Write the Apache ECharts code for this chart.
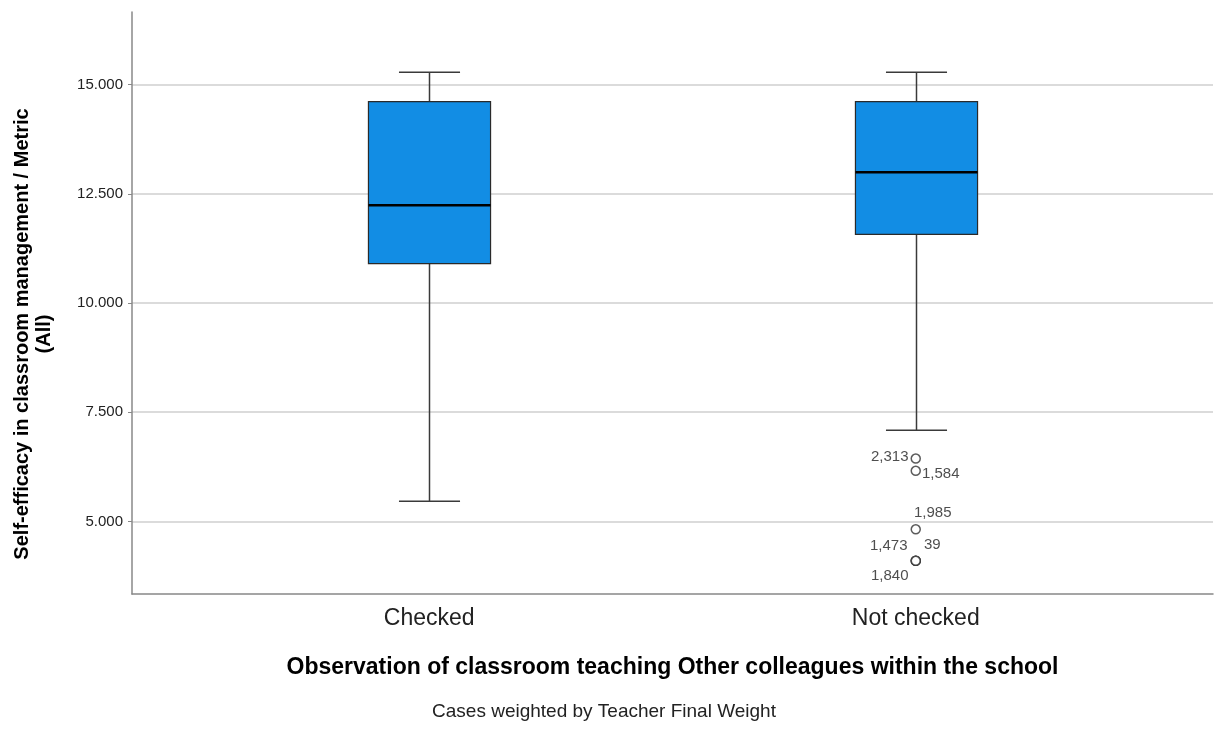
<!DOCTYPE html>
<html lang="en">
<head>
    <meta charset="UTF-8">
    <title>Boxplot</title>
    <script src="https://cdn.jsdelivr.net/npm/echarts@6/dist/echarts.min.js"></script>
</head>
<body style="margin:0;">
<div id="main" style="width:1217px;height:729px;"></div>
<script type="text/javascript">
    // 数据
    var categories = ['Checked', 'Not checked'];
    // [low whisker, Q1, median, Q3, high whisker]
    var checkedBox = [5.46, 10.90, 12.24, 14.61, 15.28];
    var notCheckedBox = [7.09, 11.57, 12.99, 14.61, 15.28];
    var outlierValues = [6.44, 6.16, 4.82, 4.10, 4.10, 4.10];
    var outlierIds = ['2,313', '1,584', '1,985', '1,473', '39', '1,840'];
    var yTicks = [5, 7.5, 10, 12.5, 15];

    // where each case label sits next to its circle
    var labelPlace = {
        '2,313': {position: 'left', distance: 2, offset: [0, -2]},
        '1,584': {position: 'right', distance: 1, offset: [0, 3]},
        '1,985': {position: 'top', distance: 4, offset: [17, 0]},
        '1,473': {position: 'left', distance: 3, offset: [0, -15]},
        '39': {position: 'right', distance: 3, offset: [0, -16]},
        '1,840': {position: 'left', distance: 2, offset: [0, 15]}
    };

    var boxData = [[0].concat(checkedBox), [1].concat(notCheckedBox)];
    var outlierData = outlierValues.map(function (v, i) {
        var p = labelPlace[outlierIds[i]];
        return {
            value: [1, v],
            label: {
                show: true,
                formatter: outlierIds[i],
                position: p.position,
                distance: p.distance,
                offset: p.offset
            }
        };
    });

    var myChart = echarts.init(document.getElementById('main'));

    function renderBox(params, api) {
        var x = api.value(0);
        var low = api.coord([x, api.value(1)]);
        var q1 = api.coord([x, api.value(2)]);
        var med = api.coord([x, api.value(3)]);
        var q3 = api.coord([x, api.value(4)]);
        var high = api.coord([x, api.value(5)]);
        var w = api.size([0.251, 0])[0];
        var cx = Math.round(low[0]) + 0.5;
        var lineStyle = {stroke: '#3a3a3a', lineWidth: 1.5};
        return {
            type: 'group',
            children: [
                {type: 'line', shape: {x1: cx, y1: high[1], x2: cx, y2: q3[1]}, style: lineStyle},
                {type: 'line', shape: {x1: cx, y1: q1[1], x2: cx, y2: low[1]}, style: lineStyle},
                {type: 'line', shape: {x1: cx - w / 4, y1: high[1], x2: cx + w / 4, y2: high[1]}, style: lineStyle},
                {type: 'line', shape: {x1: cx - w / 4, y1: low[1], x2: cx + w / 4, y2: low[1]}, style: lineStyle},
                {
                    type: 'rect',
                    shape: {x: cx - w / 2, y: q3[1], width: w, height: q1[1] - q3[1]},
                    style: {fill: '#128de4', stroke: '#2a2a2a', lineWidth: 1.2}
                },
                {type: 'line', shape: {x1: cx - w / 2, y1: med[1], x2: cx + w / 2, y2: med[1]}, style: {stroke: '#000', lineWidth: 2.5}}
            ]
        };
    }

    var option = {
        animation: false,
        grid: {left: 132, right: 4, top: 12, bottom: 135},
        xAxis: {
            type: 'value',
            min: -0.611,
            max: 1.611,
            name: 'Observation of classroom teaching Other colleagues within the school',
            nameLocation: 'middle',
            nameGap: 62,
            nameTextStyle: {fontFamily: 'Liberation Sans', fontSize: 23, fontWeight: 'bold', color: '#000'},
            axisLine: {show: true, onZero: false, lineStyle: {color: '#888', width: 1.5}},
            axisTick: {show: false},
            splitLine: {show: false},
            axisLabel: {
                customValues: [0, 1],
                formatter: function (v) { return categories[Math.round(v)]; },
                fontFamily: 'Liberation Sans',
                fontSize: 23,
                color: '#222',
                margin: 13
            }
        },
        yAxis: {
            type: 'value',
            min: 3.34,
            max: 16.66,
            axisLine: {show: true, onZero: false, lineStyle: {color: '#888', width: 1.5}},
            axisTick: {show: true, customValues: yTicks, length: 4, lineStyle: {color: '#888'}},
            splitLine: {show: true, lineStyle: {color: '#cfcfcf', width: 1.5}},
            axisLabel: {
                customValues: yTicks,
                formatter: function (v) { return v.toFixed(3); },
                fontFamily: 'Liberation Sans',
                fontSize: 15,
                color: '#222',
                margin: 9
            }
        },
        graphic: [
            {
                type: 'text',
                x: 33,
                y: 334,
                rotation: Math.PI / 2,
                style: {
                    text: 'Self-efficacy in classroom management / Metric\n(All)',
                    textAlign: 'center',
                    textVerticalAlign: 'middle',
                    font: 'bold 20px "Liberation Sans"',
                    lineHeight: 22,
                    fill: '#000'
                }
            },
            {
                type: 'text',
                x: 604,
                y: 712,
                style: {
                    text: 'Cases weighted by Teacher Final Weight',
                    textAlign: 'center',
                    textVerticalAlign: 'middle',
                    font: '19px "Liberation Sans"',
                    fill: '#222'
                }
            }
        ],
        series: [
            {
                type: 'custom',
                renderItem: renderBox,
                data: boxData,
                z: 2
            },
            {
                type: 'scatter',
                symbol: 'circle',
                symbolSize: 9,
                itemStyle: {color: '#fff', borderColor: '#333', borderWidth: 1.5},
                label: {fontFamily: 'Liberation Sans', fontSize: 15, color: '#222'},
                data: outlierData,
                z: 3
            }
        ]
    };
    myChart.setOption(option);
</script>
</body>
</html>
